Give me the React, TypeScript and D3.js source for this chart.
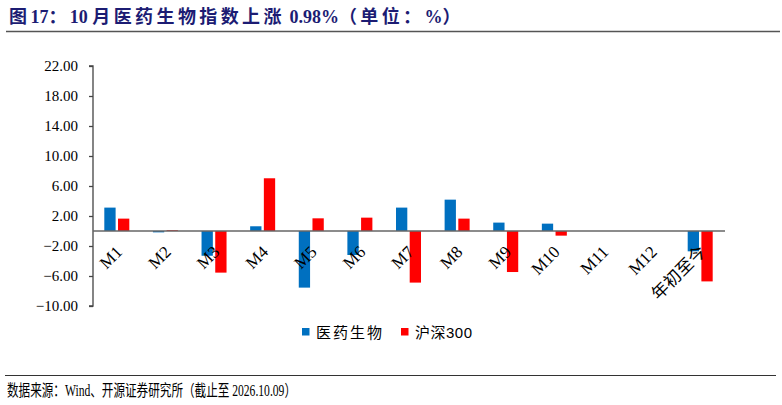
// bar chart of monthly returns: pharma index vs CSI 300
import * as d3 from "d3";
import { useEffect, useRef } from "react";

const categories = ["M1", "M2", "M3", "M4", "M5", "M6", "M7", "M8", "M9", "M10", "M11", "M12", "年初至今"];
const pharma: (number | null)[] = [3.12, -0.18, -3.3, 0.63, -7.55, -3.2, 3.12, 4.18, 1.12, 0.98, null, null, -2.71];
const hs300: (number | null)[] = [1.65, 0.1, -5.55, 7.03, 1.69, 1.78, -6.88, 1.65, -5.47, -0.62, null, null, -6.72];
const yTicks = [22, 18, 14, 10, 6, 2, -2, -6, -10];

const title = "图17：10 月医药生物指数上涨 0.98%（单位：%）";
const source = "数据来源：Wind、开源证券研究所（截止至 2026.10.09）";

const serif = "'Liberation Serif', 'Times New Roman', 'Noto Sans CJK SC', serif";
const sans = "'Liberation Sans', Arial, 'Noto Sans CJK SC', sans-serif";

export default function App() {
  const svgRef = useRef<SVGSVGElement>(null);

  useEffect(() => {
    const svg = d3.select(svgRef.current);
    svg.selectAll("*").remove();

    const left = 93;
    const right = 725;
    const top = 66;
    const bottom = 306;

    // header: CJK runs get a little extra spacing, latin runs stay tight
    const runs = title.match(/[\u3000-\u9fff\uff00-\uffef]+|[^\u3000-\u9fff\uff00-\uffef]+/g) || [];
    svg
      .append("text")
      .attr("x", 9)
      .attr("y", 23)
      .style("white-space", "pre")
      .style("font-family", serif)
      .style("font-weight", "bold")
      .style("font-size", "18px")
      .style("fill", "#1c1c73")
      .selectAll("tspan")
      .data(runs)
      .enter()
      .append("tspan")
      .style("letter-spacing", (d) => (/[\u3000-\u9fff\uff00-\uffef]/.test(d) ? "3.4px" : "0px"))
      .text((d) => d);
    svg
      .append("line")
      .attr("x1", 6)
      .attr("x2", 780)
      .attr("y1", 31.5)
      .attr("y2", 31.5)
      .style("stroke", "#555")
      .style("stroke-width", 1.5);

    const x = d3.scaleBand().domain(categories).range([left, right]);
    const y = d3.scaleLinear().domain([-10, 22]).range([bottom, top]);

    // y axis
    const yAxis = svg
      .append("g")
      .attr("transform", "translate(" + left + ",0)")
      .call(
        d3
          .axisLeft(y)
          .tickValues(yTicks)
          .tickSize(4)
          .tickPadding(11)
          .tickFormat((d) => d3.format(".2f")(d as number))
      );
    yAxis.select(".domain").attr("d", `M-4,${top}H0V${bottom}H-4`).style("stroke", "#444").style("stroke-width", 1.3);
    yAxis.selectAll(".tick line").style("stroke", "#444").style("stroke-width", 1.3);
    yAxis
      .selectAll(".tick text")
      .style("font-family", serif)
      .style("font-size", "15px")
      .style("fill", "#000");

    // bars
    const barW = 11.3;
    const groups = svg
      .append("g")
      .selectAll("g")
      .data(categories)
      .enter()
      .append("g")
      .attr("transform", (d) => "translate(" + (x(d)! + x.bandwidth() / 2) + ",0)");

    groups
      .filter((d, i) => pharma[i] !== null)
      .append("rect")
      .attr("x", -13)
      .attr("width", barW)
      .attr("y", (d) => y(Math.max(0, pharma[categories.indexOf(d)]!)))
      .attr("height", (d) => Math.abs(y(pharma[categories.indexOf(d)]!) - y(0)))
      .style("fill", "#0070c0");

    groups
      .filter((d, i) => hs300[i] !== null)
      .append("rect")
      .attr("x", 0.7)
      .attr("width", barW)
      .attr("y", (d) => y(Math.max(0, hs300[categories.indexOf(d)]!)))
      .attr("height", (d) => Math.abs(y(hs300[categories.indexOf(d)]!) - y(0)))
      .style("fill", "#ff0000");

    // zero line
    svg
      .append("line")
      .attr("x1", left)
      .attr("x2", right)
      .attr("y1", y(0))
      .attr("y2", y(0))
      .style("stroke", "#666")
      .style("stroke-width", 1.5);

    // category labels, rotated
    groups
      .append("text")
      .attr("text-anchor", "end")
      .attr("transform", "translate(-3," + (y(0) + 13) + ") rotate(-45)")
      .attr("dy", "0.75em")
      .text((d) => d)
      .style("font-family", serif)
      .style("font-size", "17px")
      .style("fill", "#000");

    // legend
    const legend = [
      { name: "医药生物", color: "#0070c0", x: 302 },
      { name: "沪深300", color: "#ff0000", x: 401 },
    ];
    const lg = svg
      .append("g")
      .selectAll("g")
      .data(legend)
      .enter()
      .append("g")
      .attr("transform", (d) => "translate(" + d.x + ",328)");
    lg.append("rect").attr("width", 7.5).attr("height", 7.5).style("fill", (d) => d.color);
    lg.append("text")
      .attr("x", 14)
      .attr("y", 9.5)
      .text((d) => d.name)
      .style("font-family", sans)
      .style("font-size", "15px")
      .style("letter-spacing", (d) => (d.x < 400 ? "2px" : "0.5px"))
      .style("fill", "#000");

    // footer
    svg
      .append("line")
      .attr("x1", 5)
      .attr("x2", 776)
      .attr("y1", 375.5)
      .attr("y2", 375.5)
      .style("stroke", "#333")
      .style("stroke-width", 1.2);
    svg
      .append("text")
      .attr("x", 7)
      .attr("y", 396)
      .attr("textLength", 289)
      .attr("lengthAdjust", "spacingAndGlyphs")
      .text(source)
      .style("font-family", serif)
      .style("font-size", "16px")
      .style("fill", "#000");
  }, []);

  return (
    <svg
      ref={svgRef}
      width={782}
      height={405}
      style={{ position: "absolute", left: 0, top: 0, background: "#fff" }}
    />
  );
}
